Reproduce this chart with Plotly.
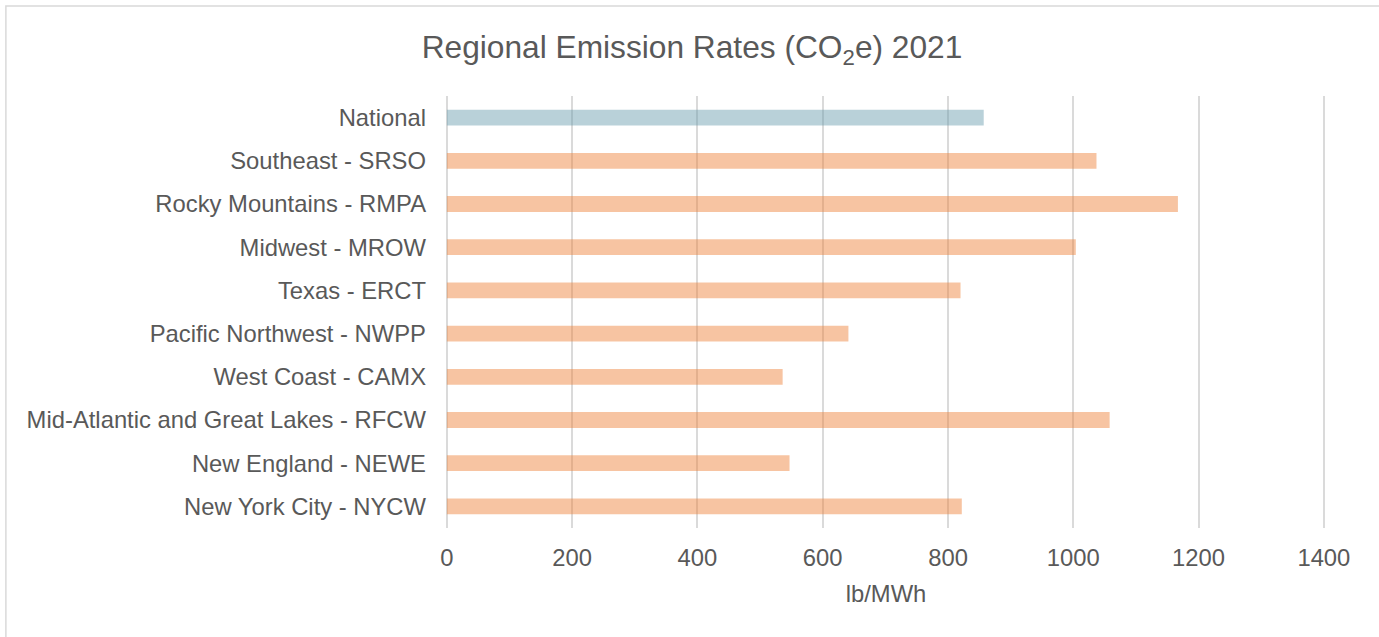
import plotly.graph_objects as go

categories = [
    "National",
    "Southeast - SRSO",
    "Rocky Mountains - RMPA",
    "Midwest - MROW",
    "Texas - ERCT",
    "Pacific Northwest - NWPP",
    "West Coast - CAMX",
    "Mid-Atlantic and Great Lakes - RFCW",
    "New England - NEWE",
    "New York City - NYCW",
]
values = [857, 1037, 1167, 1004, 820, 641, 536, 1058, 547, 822]
bar_colors = ["rgba(100,152,170,0.45)"] + ["rgba(237,125,49,0.45)"] * 9
x_ticks = [0, 200, 400, 600, 800, 1000, 1200, 1400]

W, H = 1379, 637
ppu = 877 / 1400.0           # pixels per unit
x_lo, x_hi = -3, 1405
ml = 447 + x_lo * ppu
pw = (x_hi - x_lo) * ppu
mr = W - ml - pw
mt, mb = 96, 109
ph = H - mt - mb

fig = go.Figure(go.Bar(
    y=categories, x=values, orientation="h",
    marker=dict(color=bar_colors, line=dict(width=0)),
    width=0.365,
))

font = "Liberation Sans, Arial, sans-serif"
grey = "#595959"
fs = 23.8
gc = "#dadada"
fig.update_layout(
    width=W, height=H,
    margin=dict(l=ml, r=mr, t=mt, b=mb, autoexpand=False),
    paper_bgcolor="white", plot_bgcolor="white",
    font=dict(family=font, color=grey, size=fs),
    title=dict(text="Regional Emission Rates (CO<sub>2</sub>e) 2021",
               x=(692 / W), xanchor="center", y=1 - 47 / H, yanchor="middle",
               font=dict(size=31.7, color=grey, family=font)),
    showlegend=False,
    xaxis=dict(range=[x_lo, x_hi], tickvals=x_ticks, showgrid=True,
               gridcolor=gc, gridwidth=2, zeroline=True, zerolinecolor=gc,
               zerolinewidth=2, showline=False, ticks="",
               tickfont=dict(size=fs, color=grey), ticklabelstandoff=13,
               title=dict(text="lb/MWh", font=dict(size=fs, color=grey), standoff=15)),
    yaxis=dict(autorange="reversed", showgrid=False, zeroline=False,
               showline=False, ticks="", ticklabelstandoff=18,
               tickfont=dict(size=fs, color=grey)),
)

# outer chart border
fig.add_shape(type="rect", xref="paper", yref="paper",
              x0=(6 - ml) / pw, x1=(W + 5 - ml) / pw,
              y0=-(H + 5 - mt - ph) / ph, y1=1 + (mt - 6) / ph,
              line=dict(color="#d9d9d9", width=1.5), fillcolor="rgba(0,0,0,0)",
              layer="below")

fig.write_html("out.html", config={"displayModeBar": False},
               post_script="document.body.style.margin='0px';")
